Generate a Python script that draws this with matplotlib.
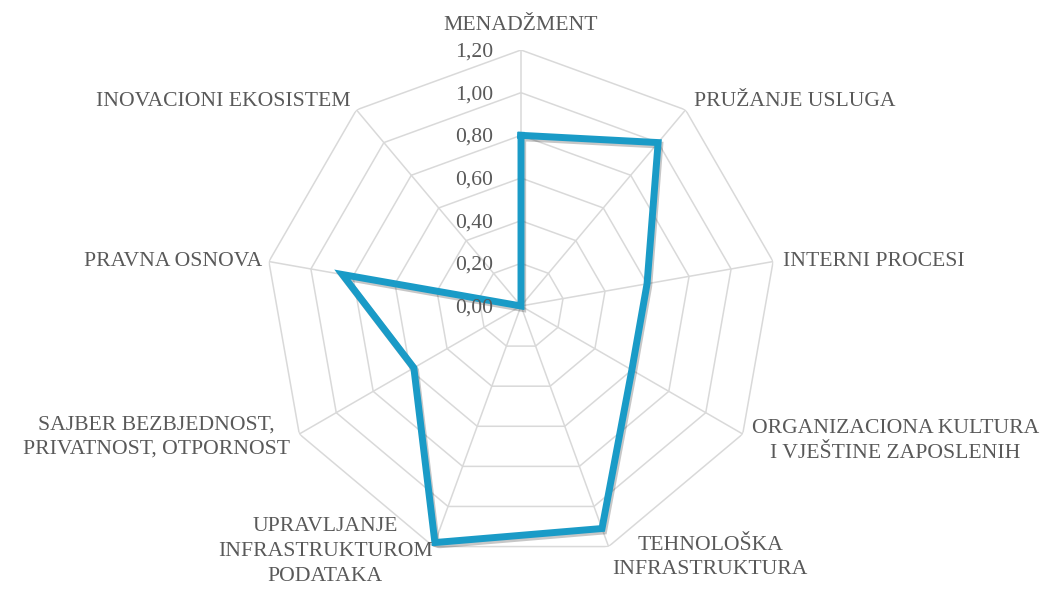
import numpy as np
import matplotlib.pyplot as plt
import matplotlib.patheffects as pe

categories = [
    "MENADŽMENT",
    "PRUŽANJE USLUGA",
    "INTERNI PROCESI",
    "ORGANIZACIONA KULTURA\nI VJEŠTINE ZAPOSLENIH",
    "TEHNOLOŠKA\nINFRASTRUKTURA",
    "UPRAVLJANJE\nINFRASTRUKTUROM\nPODATAKA",
    "SAJBER BEZBJEDNOST,\nPRIVATNOST, OTPORNOST",
    "PRAVNA OSNOVA",
    "INOVACIONI EKOSISTEM",
]
values = [0.80, 1.00, 0.60, 0.60, 1.11, 1.18, 0.58, 0.85, 0.00]
ring_values = [0.2, 0.4, 0.6, 0.8, 1.0, 1.2]
tick_values = [0.0, 0.2, 0.4, 0.6, 0.8, 1.0, 1.2]
tick_labels = ["0,00", "0,20", "0,40", "0,60", "0,80", "1,00", "1,20"]

# label placement: (ha, dx px, dy px)
label_pos = [
    ("center", 0, 25),
    ("left", 8, 8),
    ("left", 10, 0),
    ("left", 9, -7),
    ("left", 4, -11),
    ("right", -1, -5),
    ("right", -9, -3),
    ("right", -7, 0),
    ("right", -6, 8),
]

text_color = "#595959"
grid_color = "#D9D9D9"
line_color = "#1A9BC7"
font = "Liberation Serif"
fs = 15.6

n = len(categories)
angles = np.arange(n) * 2 * np.pi / n

fig = plt.figure(figsize=(10.42, 5.91), dpi=100)
ax = fig.add_axes([265 / 1042, 29 / 591, 512 / 1042, 512 / 591], projection="polar")
ax.set_theta_zero_location("N")
ax.set_theta_direction(-1)
ax.set_ylim(0, 1.2)
ax.grid(False)
ax.spines["polar"].set_visible(False)
ax.set_xticks([])
ax.set_yticks([])
ax.patch.set_alpha(0)

closed = np.append(angles, angles[0])
for rv in ring_values:
    ax.plot(closed, [rv] * (n + 1), color=grid_color, lw=1.1, zorder=1)
for a in angles:
    ax.plot([a, a], [0, 1.2], color=grid_color, lw=1.1, zorder=1)

ax.plot(closed, values + [values[0]], color=line_color, lw=5,
        solid_joinstyle="miter", zorder=3,
        path_effects=[pe.SimpleLineShadow(offset=(1.2, -1.8), shadow_color="k", alpha=0.22),
                      pe.Normal()])

px = 0.72  # points per pixel
for a, lab, (ha, dx, dy) in zip(angles, categories, label_pos):
    ax.annotate(lab, xy=(a, 1.2), xytext=(dx * px, dy * px), textcoords="offset points",
                ha=ha, va="center", multialignment="center", linespacing=1.4,
                fontsize=fs, family=font, color=text_color, annotation_clip=False)

for tv, tl in zip(tick_values, tick_labels):
    ax.annotate(tl, xy=(0, tv), xytext=(-28 * px, -2 * px), textcoords="offset points",
                ha="right", va="center", fontsize=fs, family=font, color=text_color,
                zorder=4, annotation_clip=False)

fig.savefig("out.png", dpi=100)
